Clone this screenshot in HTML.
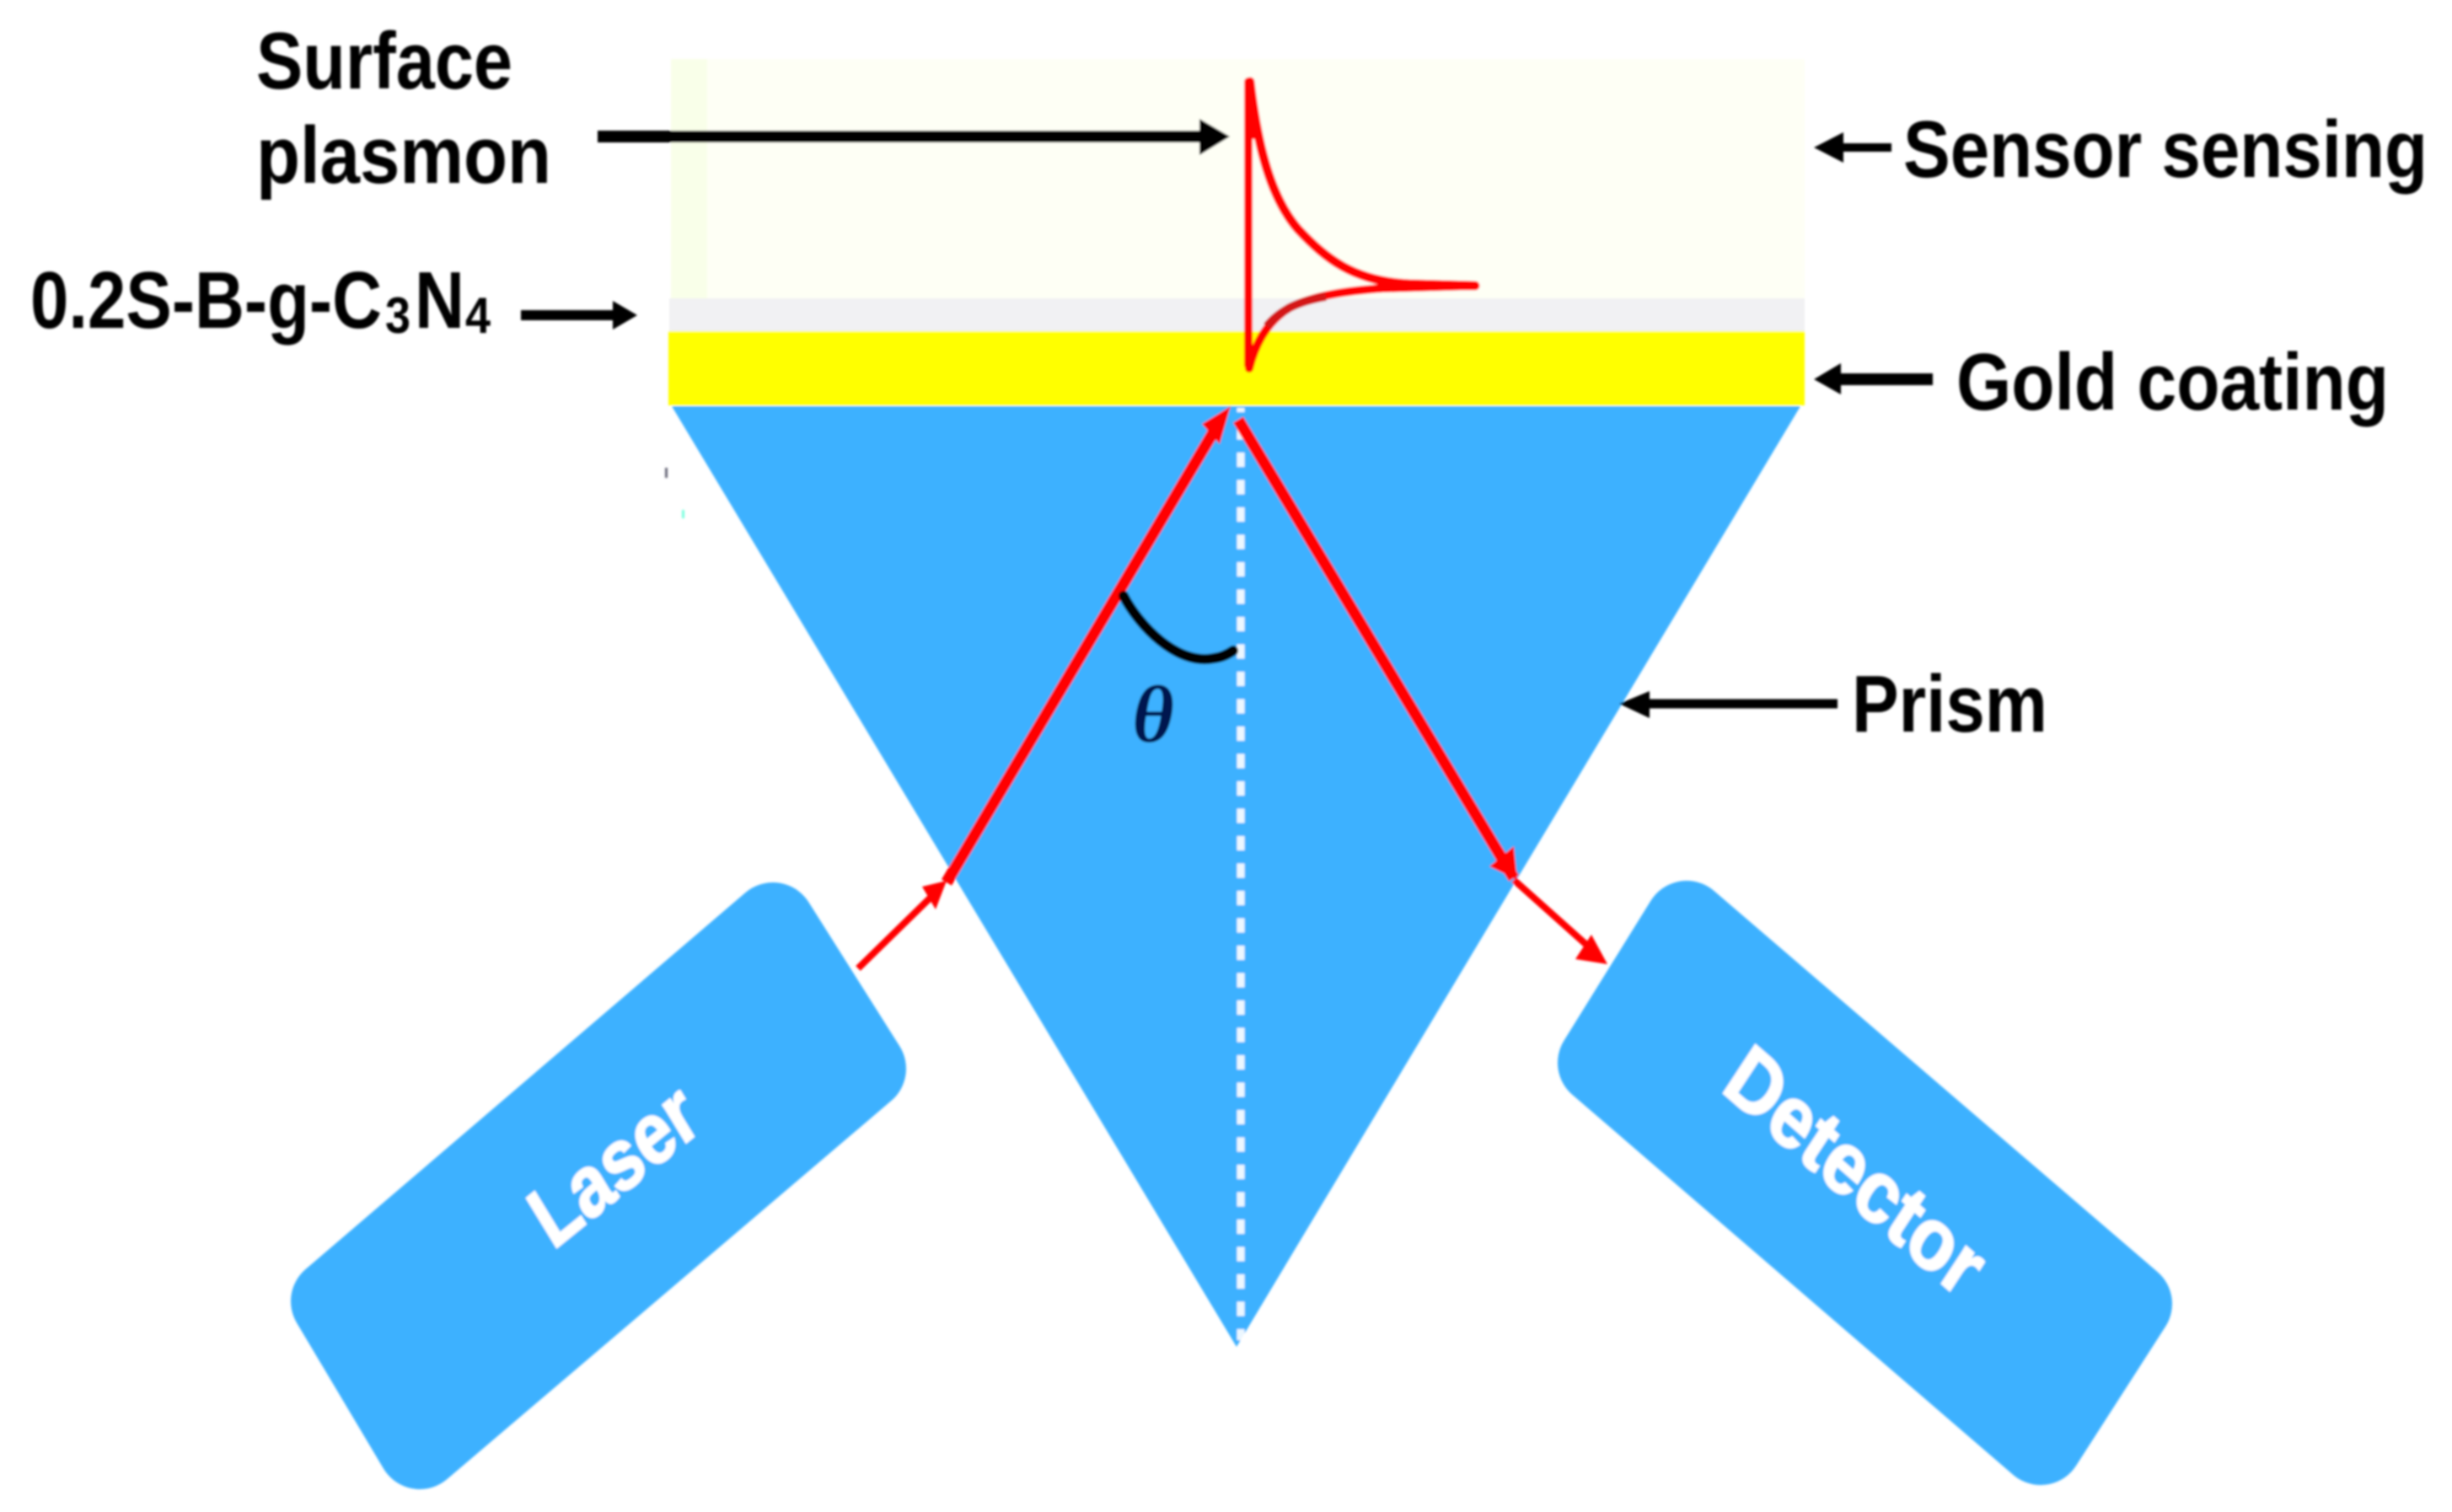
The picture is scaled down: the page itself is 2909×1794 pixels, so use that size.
<!DOCTYPE html>
<html lang="en">
<head>
<meta charset="utf-8">
<title>Surface plasmon resonance sensor diagram</title>
<style>
html,body{margin:0;padding:0;background:#fff;width:2909px;height:1794px;overflow:hidden}
svg{display:block}
text{font-family:"Liberation Sans",sans-serif}
.l{font-weight:bold;fill:#000;font-size:96px}
.w{font-weight:bold;fill:#fff;font-size:100px;stroke:#fff;stroke-width:2}
</style>
</head>
<body>
<svg xmlns="http://www.w3.org/2000/svg" width="2909" height="1794" viewBox="0 0 2909 1794">
<defs>
<filter id="soft" x="-5%" y="-5%" width="110%" height="110%"><feGaussianBlur stdDeviation="1.4"/></filter>
</defs>
<rect width="2909" height="1794" fill="#fff"/>
<g filter="url(#soft)">
<!-- layers -->
<rect x="796" y="70" width="1345" height="285" fill="#FEFFF5"/>
<rect x="796" y="70" width="43" height="285" fill="#F9FFE9"/>
<rect x="794" y="354" width="1347" height="40" fill="#F1F1F3"/>
<rect x="793" y="393" width="1348" height="88" fill="#FFFF00"/>
<!-- prism -->
<polygon points="797,482 2136,482 1467,1598" fill="#3EB1FF"/>
<rect x="789" y="555" width="3" height="12" fill="#667"/>
<rect x="809" y="605" width="3" height="10" fill="#7fd"/>
<!-- dashed normal -->
<line x1="1472" y1="484" x2="1472" y2="1590" stroke="#fff" stroke-opacity=".9" stroke-width="9" stroke-dasharray="17 15.5" stroke-dashoffset="12"/>
<!-- laser -->
<polygon points="917,1097 1025,1268 498,1717 395,1544" fill="#3EB1FF" stroke="#3EB1FF" stroke-width="100" stroke-linejoin="round"/>
<!-- detector -->
<polygon points="2001,1095 2527,1547 2421,1712 1898,1261" fill="#3EB1FF" stroke="#3EB1FF" stroke-width="100" stroke-linejoin="round"/>
<text class="w" transform="matrix(.777,-.63,.521,.853,656,1484)" textLength="231" lengthAdjust="spacingAndGlyphs">Laser</text>
<text class="w" transform="matrix(.753,.657,-.55,.837,2040,1293)" textLength="380" lengthAdjust="spacingAndGlyphs">Detector</text>
<!-- rays -->
<line x1="1018" y1="1149" x2="1110" y2="1059" stroke="#FF0000" stroke-width="8"/>
<polygon points="1123,1045 1094,1052 1110,1079" fill="#FF0000"/>
<line x1="1123" y1="1047" x2="1440" y2="512" stroke="#FF0000" stroke-width="14"/>
<polygon points="1460,482 1426,503 1447,527" fill="#FF0000"/>
<line x1="1469" y1="498" x2="1796" y2="1042" stroke="#FF0000" stroke-width="14"/>
<polygon points="1767,1028 1796,1004 1800,1044" fill="#FF0000"/>
<line x1="1796" y1="1044" x2="1890" y2="1128" stroke="#FF0000" stroke-width="8"/>
<polygon points="1907,1144 1888,1109 1869,1138" fill="#FF0000"/>
<!-- angle -->
<path d="M1333,707 C1350,740 1395,790 1440,781 C1450,780 1457,776 1463,772" fill="none" stroke="#000" stroke-width="12" stroke-linecap="round"/>
<text x="1368" y="880" text-anchor="middle" font-style="italic" font-weight="bold" font-size="96" style="font-family:'Liberation Serif',serif" fill="#04184F">θ</text>
<!-- plasmon curve -->
<line x1="1481" y1="97" x2="1481" y2="433" stroke="#FF0000" stroke-width="10" stroke-linecap="round"/>
<path d="M1483,97 C1492,175 1508,235 1540,272 C1572,306 1605,334 1673,337 L1750,339" stroke="#FF0000" stroke-width="11" fill="none" stroke-linecap="round"/>
<path d="M1750,339 L1640,342 C1600,345 1560,350 1530,365 C1505,380 1490,405 1482,437" stroke="#FF0000" stroke-width="10" fill="none" stroke-linecap="round"/>
<path d="M1573,352 C1555,355 1542,359 1530,365 C1518,372 1510,378 1503,387" stroke="#D41818" stroke-width="10" fill="none"/>
<polygon points="1476,100 1486,100 1494,165 1476,165" fill="#FF0000"/>
<!-- black arrows -->
<line x1="709" y1="162" x2="1430" y2="162" stroke="#000" stroke-width="14"/>
<polygon points="1459,162 1423,141 1423,184" fill="#000"/>
<line x1="618" y1="374" x2="732" y2="374" stroke="#000" stroke-width="12"/>
<polygon points="756,374 727,357 727,391" fill="#000"/>
<line x1="2175" y1="175" x2="2244" y2="175" stroke="#000" stroke-width="10"/>
<polygon points="2152,175 2187,157 2187,193" fill="#000"/>
<line x1="2180" y1="450" x2="2293" y2="450" stroke="#000" stroke-width="14"/>
<polygon points="2152,450 2184,431 2184,468" fill="#000"/>
<line x1="1950" y1="835" x2="2180" y2="835" stroke="#000" stroke-width="11"/>
<polygon points="1921,835 1957,820 1957,852" fill="#000"/>
<!-- labels -->
<text class="l" x="304" y="105" textLength="304" lengthAdjust="spacingAndGlyphs">Surface</text>
<text class="l" x="304" y="217" textLength="350" lengthAdjust="spacingAndGlyphs">plasmon</text>
<text class="l" x="36" y="389" textLength="417" lengthAdjust="spacingAndGlyphs">0.2S-B-g-C</text>
<text class="l" x="457" y="395" style="font-size:60px" textLength="30" lengthAdjust="spacingAndGlyphs">3</text>
<text class="l" x="492" y="389" textLength="59" lengthAdjust="spacingAndGlyphs">N</text>
<text class="l" x="552" y="395" style="font-size:60px" textLength="30" lengthAdjust="spacingAndGlyphs">4</text>
<text class="l" x="2258" y="210" textLength="622" lengthAdjust="spacingAndGlyphs">Sensor sensing</text>
<text class="l" x="2321" y="486" textLength="513" lengthAdjust="spacingAndGlyphs">Gold coating</text>
<text class="l" x="2197" y="868" textLength="232" lengthAdjust="spacingAndGlyphs">Prism</text>
</g>
</svg>
</body>
</html>
